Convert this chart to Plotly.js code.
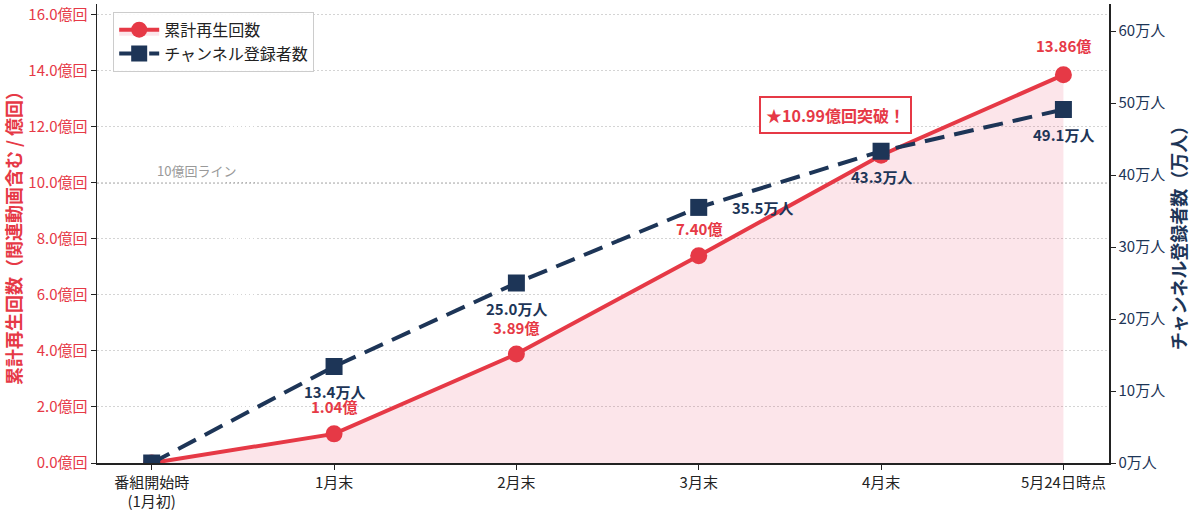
<!DOCTYPE html>
<html><head><meta charset="utf-8">
<script src="https://cdn.plot.ly/plotly-3.0.1.min.js"></script>
<style>html,body{margin:0;padding:0;background:#fff}#chart{width:1196px;height:512px}</style>
</head><body><div id="chart"></div>
<script>
const categories = ['番組開始時<br>(1月初)', '1月末', '2月末', '3月末', '4月末', '5月24日時点'];
const views = [0, 1.04, 3.89, 7.40, 10.99, 13.86];       // 億回
const subscribers = [0, 13.4, 25.0, 35.5, 43.3, 49.1];    // 万人
const leftTicks = [0, 2, 4, 6, 8, 10, 12, 14, 16];
const rightTicks = [0, 10, 20, 30, 40, 50, 60];
const viewsName = '累計再生回数';
const subsName = 'チャンネル登録者数';
const milestoneText = '★10.99億回突破！';
const lineText = '10億回ライン';
const milestoneIndex = 4;

const RED = '#e63946', NAVY = '#1d3557';
const FONT = '"Noto Sans CJK JP", "Noto Sans", sans-serif';
const xs = categories.map((_, i) => i);

const traces = [
  {x: xs, y: views, name: viewsName, type: 'scatter', mode: 'lines+markers',
   line: {color: RED, width: 4}, marker: {color: RED, size: 17, symbol: 'circle'},
   fill: 'tozeroy', fillcolor: 'rgba(230,57,90,0.13)', yaxis: 'y'},
  {x: xs, y: subscribers, name: subsName, type: 'scatter', mode: 'lines+markers',
   line: {color: NAVY, width: 4, dash: '20px,10px'}, marker: {color: NAVY, size: 17, symbol: 'square'},
   yaxis: 'y2'}
];

const annotations = [];
views.forEach((v, i) => {
  if (i === 0 || i === milestoneIndex) return;
  annotations.push({x: i, y: v, xref: 'x', yref: 'y', text: '<b>' + v.toFixed(2) + '億</b>',
    showarrow: false, yshift: (i === views.length - 1 ? 29 : 27), yanchor: 'middle',
    font: {family: FONT, size: 15, color: RED}});
});
subscribers.forEach((s, i) => {
  if (i === 0) return;
  const right = (i === 3);
  annotations.push({x: i, y: s, xref: 'x', yref: 'y2', text: '<b>' + s.toFixed(1) + '万人</b>',
    showarrow: false, xshift: right ? 64 : 0, yshift: right ? 0 : -25, yanchor: 'middle',
    font: {family: FONT, size: 15, color: NAVY}});
});
annotations.push({x: milestoneIndex, y: views[milestoneIndex], xref: 'x', yref: 'y',
  text: '<b>' + milestoneText + '</b>', showarrow: false, xshift: -46, yshift: 40,
  font: {family: FONT, size: 16, color: RED}, bgcolor: '#ffffff', bordercolor: RED,
  borderwidth: 2, borderpad: 5});
annotations.push({x: 0.057, y: 10, xref: 'paper', yref: 'y', text: lineText, showarrow: false,
  xanchor: 'left', yanchor: 'bottom', yshift: 1, font: {family: FONT, size: 13, color: '#999999'}});

const layout = {
  width: 1196, height: 512,
  margin: {l: 97, r: 87, t: 4, b: 49},
  paper_bgcolor: '#ffffff', plot_bgcolor: '#ffffff',
  font: {family: FONT, size: 15, color: '#222'},
  showlegend: true,
  legend: {x: 0.016, y: 0.983, xanchor: 'left', yanchor: 'top', bgcolor: 'rgba(255,255,255,0.9)',
    bordercolor: '#cccccc', borderwidth: 1, font: {family: FONT, size: 16, color: '#222'},
    tracegroupgap: 2, itemwidth: 40},
  xaxis: {range: [-0.3, 5.25], tickvals: xs, ticktext: categories, showgrid: false, zeroline: false,
    showline: true, linecolor: '#222', linewidth: 1.5, ticks: 'outside', ticklen: 5, tickcolor: '#222',
    tickfont: {family: FONT, size: 15, color: '#222'}, fixedrange: true},
  yaxis: {range: [0, 16.39], tickvals: leftTicks, ticktext: leftTicks.map(t => t.toFixed(1) + '億回'),
    showgrid: true, gridcolor: '#d4d4d4', griddash: '1.5px,2.5px', gridwidth: 1, zeroline: false,
    showline: true, linecolor: '#222', linewidth: 1.5, ticks: 'outside', ticklen: 5, tickcolor: '#222',
    tickfont: {family: FONT, size: 15, color: RED},
    title: {text: '<b>累計再生回数（関連動画含む / 億回）</b>', font: {family: FONT, size: 18, color: RED}, standoff: 9}},
  yaxis2: {range: [0, 63.75], overlaying: 'y', side: 'right', tickvals: rightTicks,
    ticktext: rightTicks.map(t => t + '万人'), showgrid: false, zeroline: false,
    showline: true, linecolor: '#222', linewidth: 1.5, ticks: 'outside', ticklen: 5, tickcolor: '#222',
    tickfont: {family: FONT, size: 15, color: NAVY},
    title: {text: '<b>チャンネル登録者数（万人）</b>', font: {family: FONT, size: 18, color: NAVY}, standoff: 6}},
  shapes: [{type: 'line', xref: 'paper', yref: 'y', x0: 0, x1: 1, y0: 10, y1: 10,
    line: {color: '#999999', width: 1.3, dash: '2px,2px'}, layer: 'below'}],
  annotations: annotations,
  hovermode: false
};

Plotly.newPlot('chart', traces, layout, {displayModeBar: false, staticPlot: true});
</script></body></html>
